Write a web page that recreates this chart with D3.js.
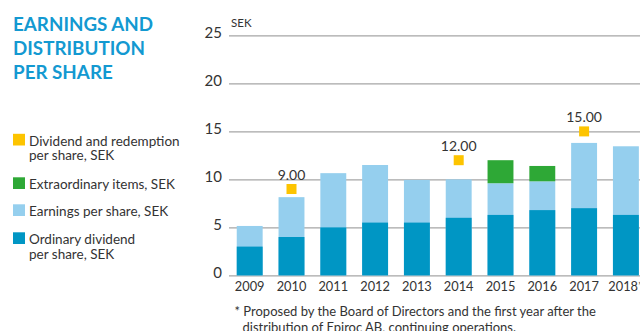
<!DOCTYPE html>
<html>
<head>
<meta charset="utf-8">
<script src="https://cdn.jsdelivr.net/npm/d3@7"></script>
<style>
  html, body { margin: 0; padding: 0; background: #fff; }
  svg { display: block; }
  text { font-family: Lato, "Open Sans", sans-serif; }
</style>
</head>
<body>
<svg id="chart" width="640" height="331"></svg>
<script>
// Earnings and distribution per share, SEK
const years = ["2009", "2010", "2011", "2012", "2013", "2014", "2015", "2016", "2017", "2018*"];
const ordinaryDividend = [3.0, 4.0, 5.0, 5.5, 5.5, 6.0, 6.3, 6.8, 7.0, 6.3];
const earningsPerShare = [5.15, 8.15, 10.65, 11.5, 9.95, 10.0, 9.6, 9.8, 13.8, 13.45];
const extraordinaryItems = [0, 0, 0, 0, 0, 0, 2.4, 1.6, 0, 0];
const redemptionYears = ["2010", "2014", "2017"];
const redemptionValues = [9.0, 12.0, 15.0];
const yTicks = [0, 5, 10, 15, 20, 25];

const titleLines = ["EARNINGS AND", "DISTRIBUTION", "PER SHARE"];
const legendItems = [
  { color: "#fdc400", lines: ["Dividend and redemption", "per share, SEK"] },
  { color: "#2ea836", lines: ["Extraordinary items, SEK"] },
  { color: "#95cfee", lines: ["Earnings per share, SEK"] },
  { color: "#0096c4", lines: ["Ordinary dividend", "per share, SEK"] }
];
const footnote = [
  "* Proposed by the Board of Directors and the first year after the",
  "distribution of Epiroc AB, continuing operations."
];

const colors = {
  dividend: "#0096c4",
  eps: "#95cfee",
  extra: "#2ea836",
  redemption: "#fdc400",
  title: "#1399d1",
  text: "#333333",
  grid: "#a6a6a6"
};

const svg = d3.select("#chart");

const x = d3.scaleBand()
  .domain(years)
  .range([228.8, 646.8])
  .paddingInner(0.38)
  .paddingOuter(0.19);

const y = d3.scaleLinear()
  .domain([0, 25])
  .range([275.4, 35.4]);

// Title
svg.append("g")
  .selectAll("text")
  .data(titleLines)
  .join("text")
  .attr("x", 13)
  .attr("y", (d, i) => 30.7 + i * 24)
  .attr("fill", colors.title)
  .attr("font-weight", 700)
  .attr("font-size", 18.8)
  .text(d => d);

// Legend
const legendTop = [145.5, 189, 216, 244];
const legend = svg.append("g").selectAll("g")
  .data(legendItems)
  .join("g")
  .attr("transform", (d, i) => `translate(13,${legendTop[i]})`);
legend.append("rect")
  .attr("x", 0).attr("y", -11.7)
  .attr("width", 12).attr("height", 11.7)
  .attr("fill", d => d.color);
legend.each(function (d) {
  d3.select(this).selectAll("text")
    .data(d.lines)
    .join("text")
    .attr("x", 16)
    .attr("y", (t, i) => i * 14.8)
    .attr("fill", colors.text)
    .attr("font-size", 13.5)
    .text(t => t);
});

// Gridlines and y axis labels
const yAxis = d3.axisLeft(y)
  .tickValues(yTicks)
  .tickSize(-(640 - 229))
  .tickPadding(7)
  .tickFormat(d3.format("d"));
const yg = svg.append("g")
  .attr("transform", "translate(229,0)")
  .call(yAxis);
yg.select(".domain").remove();
yg.selectAll(".tick line")
  .attr("stroke", colors.grid)
  .attr("stroke-width", 1.2);
yg.selectAll(".tick text")
  .attr("fill", colors.text)
  .attr("font-size", 15)
  .attr("font-family", "Lato, sans-serif")
  .attr("dy", "0.12em");

svg.append("text")
  .attr("x", 231)
  .attr("y", 26.6)
  .attr("fill", colors.text)
  .attr("font-size", 11.5)
  .text("SEK");

// Bars: earnings per share, ordinary dividend inside, extraordinary items on top
const bars = svg.append("g");
bars.selectAll("rect.eps")
  .data(years)
  .join("rect")
  .attr("class", "eps")
  .attr("x", d => x(d))
  .attr("width", x.bandwidth())
  .attr("y", (d, i) => y(earningsPerShare[i]))
  .attr("height", (d, i) => y(0) - y(earningsPerShare[i]))
  .attr("fill", colors.eps);
bars.selectAll("rect.div")
  .data(years)
  .join("rect")
  .attr("class", "div")
  .attr("x", d => x(d))
  .attr("width", x.bandwidth())
  .attr("y", (d, i) => y(ordinaryDividend[i]))
  .attr("height", (d, i) => y(0) - y(ordinaryDividend[i]))
  .attr("fill", colors.dividend);
bars.selectAll("rect.extra")
  .data(years.filter((d, i) => extraordinaryItems[i] > 0))
  .join("rect")
  .attr("class", "extra")
  .attr("x", d => x(d))
  .attr("width", x.bandwidth())
  .attr("y", d => {
    const i = years.indexOf(d);
    return y(earningsPerShare[i] + extraordinaryItems[i]);
  })
  .attr("height", d => {
    const i = years.indexOf(d);
    return y(earningsPerShare[i]) - y(earningsPerShare[i] + extraordinaryItems[i]);
  })
  .attr("fill", colors.extra);

// Dividend and redemption markers with value labels
const sq = 10;
const marks = svg.append("g").selectAll("g")
  .data(redemptionYears)
  .join("g");
marks.append("rect")
  .attr("x", d => x(d) + x.bandwidth() / 2 - sq / 2)
  .attr("y", (d, i) => y(redemptionValues[i]) - sq / 2)
  .attr("width", sq)
  .attr("height", sq)
  .attr("fill", colors.redemption);
marks.append("text")
  .attr("x", d => x(d) + x.bandwidth() / 2)
  .attr("y", (d, i) => y(redemptionValues[i]) - sq / 2 - 4)
  .attr("text-anchor", "middle")
  .attr("fill", colors.text)
  .attr("font-size", 14)
  .text((d, i) => d3.format(".2f")(redemptionValues[i]));

// Year labels
svg.append("g").selectAll("text")
  .data(years)
  .join("text")
  .attr("x", d => x(d) + x.bandwidth() / 2)
  .attr("y", 290.7)
  .attr("text-anchor", "middle")
  .attr("fill", colors.text)
  .attr("font-size", 12.8)
  .text(d => d);

// Footnote
svg.append("g").selectAll("text")
  .data(footnote)
  .join("text")
  .attr("x", (d, i) => i === 0 ? 234.5 : 242.5)
  .attr("y", (d, i) => 315.7 + i * 16)
  .attr("fill", colors.text)
  .attr("font-size", 13)
  .text(d => d);
</script>
</body>
</html>
